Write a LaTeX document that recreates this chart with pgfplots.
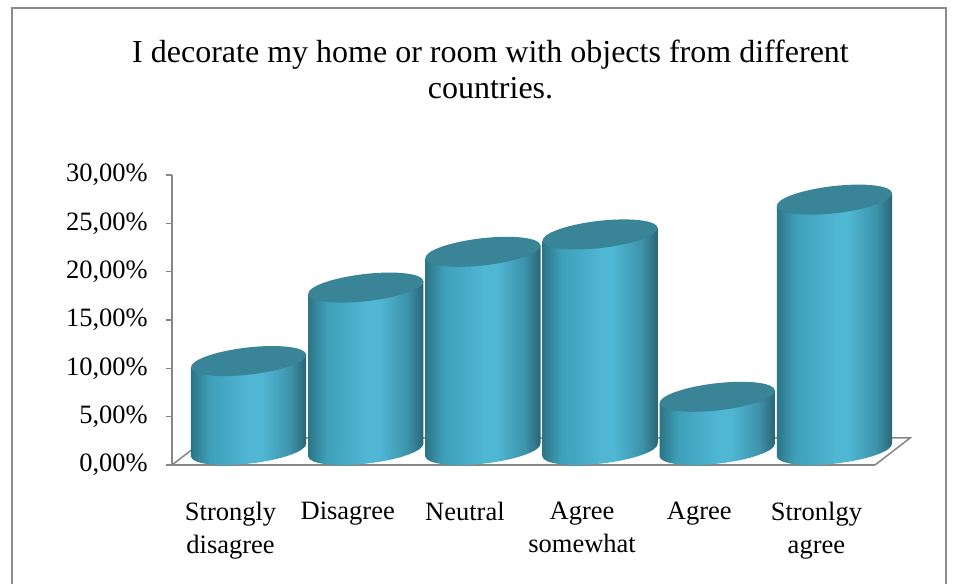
\documentclass[border=0pt]{standalone}
\usepackage{fontspec}
\setmainfont{Liberation Serif}
\usepackage{pgfplots}
\usepackage{pgfplotstable}
\pgfplotsset{compat=1.18}
\definecolor{cylA}{HTML}{2C7486}
\definecolor{cylB}{HTML}{3E9FB8}
\definecolor{cylC}{HTML}{4FB6D3}
\definecolor{cylD}{HTML}{3D93AA}
\definecolor{cylE}{HTML}{2A6576}
\definecolor{topC}{HTML}{3A8497}
\definecolor{axisgray}{HTML}{868686}
\definecolor{framegray}{HTML}{8C8C8C}
\pgfdeclarehorizontalshading{cyl}{100bp}{color(0bp)=(cylA); color(25bp)=(cylA); color(33bp)=(cylB); color(50bp)=(cylC); color(56bp)=(cylC); color(68bp)=(cylD); color(75bp)=(cylE); color(100bp)=(cylE)}
% one whole cylinder, drawn with its top centre at the data point;
% its height follows the value (axis: 290pt for 30 units)
\pgfdeclareplotmark{cyl3d}{%
  \pgfmathsetmacro\cylh{\myval*290/30}%
  \pgfmathsetmacro\ya{-6.6-\cylh}%
  \pgfmathsetmacro\yb{6.6-\cylh}%
  \pgfmathsetmacro\yc{-\cylh}%
  \pgfpathellipse{\pgfpoint{0pt}{\yc pt}}{\pgfpoint{57.6pt}{6.6pt}}{\pgfpoint{-1.54pt}{13.5pt}}%
  \pgfshadepath{cyl}{0}\pgfusepath{}%
  \pgfpathmoveto{\pgfpoint{-57.62pt}{-6.6pt}}%
  \pgfpathlineto{\pgfpoint{-57.62pt}{\ya pt}}%
  \pgfpathlineto{\pgfpoint{57.62pt}{\yb pt}}%
  \pgfpathlineto{\pgfpoint{57.62pt}{6.6pt}}%
  \pgfpathclose
  \pgfshadepath{cyl}{0}\pgfusepath{}%
  \pgfpathellipse{\pgfpointorigin}{\pgfpoint{57.6pt}{6.6pt}}{\pgfpoint{-1.54pt}{13.5pt}}%
  \pgfsetfillcolor{topC}\pgfusepathqfill}
\pgfplotstableread{
x y
0 9.2
1 16.8
2 20.5
3 22.3
4 5.5
5 25.9
}\datatable
\begin{document}
\begin{tikzpicture}[x=1pt,y=1pt]
\clip (0,0) rectangle (957,583);
\fill[white] (0,0) rectangle (957,583);
\draw[framegray, line width=2pt] (12,-20) rectangle (946,575);
\node[anchor=north, align=center, inner sep=0pt, font=\fontsize{32}{36}\selectfont] at (490.5,543.5)
  {I decorate my home or room with objects from different\\countries.};
\begin{axis}[
  at={(172pt,118pt)}, anchor=south west,
  width=703pt, height=290pt, scale only axis,
  xmin=-0.5, xmax=5.5, ymin=0, ymax=30,
  clip=false,
  axis x line*=bottom, axis y line*=left,
  axis line style={axisgray, line width=1.5pt},
  xtick={0,...,5},
  xticklabels={{Strongly\\disagree},{Disagree},{Neutral},{Agree\\somewhat},{Agree},{Stronlgy\\agree}},
  x tick style={draw=none},
  xticklabel style={align=center, anchor=north, inner sep=0pt, yshift=-31pt, font=\fontsize{26.5}{33}\selectfont},
  ytick={0,5,...,30},
  yticklabels={{0,00\%},{5,00\%},{10,00\%},{15,00\%},{20,00\%},{25,00\%},{30,00\%}},
  tick align=outside,
  major tick length=6pt,
  y tick style={axisgray, line width=1.5pt},
  yticklabel style={anchor=east, inner sep=0pt, xshift=-18pt, font=\fontsize{26.5}{32}\selectfont},
]
\addplot[draw=axisgray, line width=1.5pt] coordinates {(5.5,0) (5.8,2.8) (-0.2,2.8) (-0.5,0)};
\end{axis}
\begin{axis}[
  width=703pt, height=290pt, scale only axis,
  xmin=-0.5, xmax=5.5, ymin=0, ymax=30, clip=false, hide axis,
  at={(190pt,133pt)}, anchor=south west]
\addplot[only marks, mark=cyl3d, visualization depends on={\thisrow{y} \as \myval}]
  table[x=x, y=y] {\datatable};
\end{axis}
\end{tikzpicture}
\end{document}
